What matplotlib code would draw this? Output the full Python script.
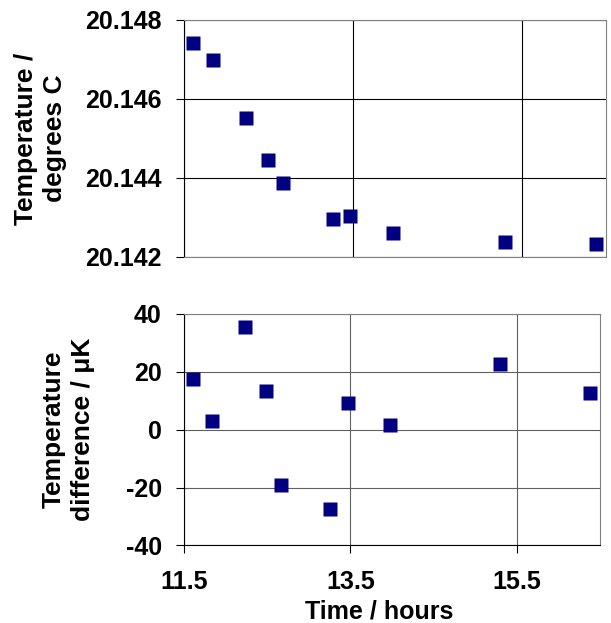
import numpy as np
import matplotlib
matplotlib.use("Agg")
import matplotlib.pyplot as plt

plt.rcParams['font.family'] = ['Liberation Sans', 'DejaVu Sans']
plt.rcParams['font.weight'] = 'bold'
plt.rcParams['axes.labelweight'] = 'bold'
plt.rcParams['font.size'] = 18
plt.rcParams['axes.unicode_minus'] = False

# time of each measurement (hours)
hours = [11.61, 11.84, 12.23, 12.49, 12.67, 13.26, 13.47, 13.98, 15.30, 16.38]
# measured temperature (degrees C)
temp = [20.14742, 20.14699, 20.14551, 20.14446, 20.14388,
        20.14297, 20.14304, 20.14261, 20.14237, 20.14234]
# temperature difference (micro K)
diff = [17.6, 2.9, 35.6, 13.3, -19.0, -27.3, 9.1, 1.6, 22.8, 12.6]

xticks = [11.5, 13.5, 15.5]
navy = '#000080'

fig = plt.figure(figsize=(6.11, 6.23), dpi=100)
ax1 = fig.add_axes([0.3011, 0.5875, 0.6907, 0.3804])
ax2 = fig.add_axes([0.3011, 0.1244, 0.6809, 0.3716])

for ax in (ax1, ax2):
    ax.set_xlim(11.5, 16.5)
    ax.set_xticks(xticks)
    for s in ('top', 'right', 'bottom'):
        ax.spines[s].set_color('#808080')
    ax.spines['left'].set_color('black')
    ax.tick_params(direction='out', length=6, width=0.8, colors='black', pad=10)
    ax.set_axisbelow(True)

ax1.plot(hours, temp, 's', color=navy, ms=9.5, mec='none')
ax1.set_ylim(20.142, 20.148)
ax1.set_yticks(np.arange(20.142, 20.1481, 0.002))
ax1.yaxis.set_major_formatter(plt.FormatStrFormatter('%.3f'))
ax1.tick_params(axis='x', labelbottom=False, length=0)
ax1.grid(True, color='black', lw=0.8)
ax1.set_ylabel('Temperature /\ndegrees C', fontsize=19, linespacing=1.25)
ax1.yaxis.set_label_coords(-0.277, 0.5)

ax2.plot(hours, diff, 's', color=navy, ms=9.5, mec='none')
ax2.set_ylim(-40, 40)
ax2.set_yticks([-40, -20, 0, 20, 40])
ax2.spines['bottom'].set_color('black')
ax2.grid(True, color='#606060', lw=0.8)
ax2.tick_params(axis='x', pad=12)
ax2.set_xticklabels(['11.5', '13.5', '15.5'])
ax2.set_ylabel('Temperature\ndifference / \u03bcK', fontsize=19, linespacing=1.25)
ax2.yaxis.set_label_coords(-0.214, 0.5)
ax2.set_xlabel('Time / hours', va='top')
ax2.xaxis.set_label_coords(0.469, -0.232)

fig.savefig('out.png', dpi=100)
